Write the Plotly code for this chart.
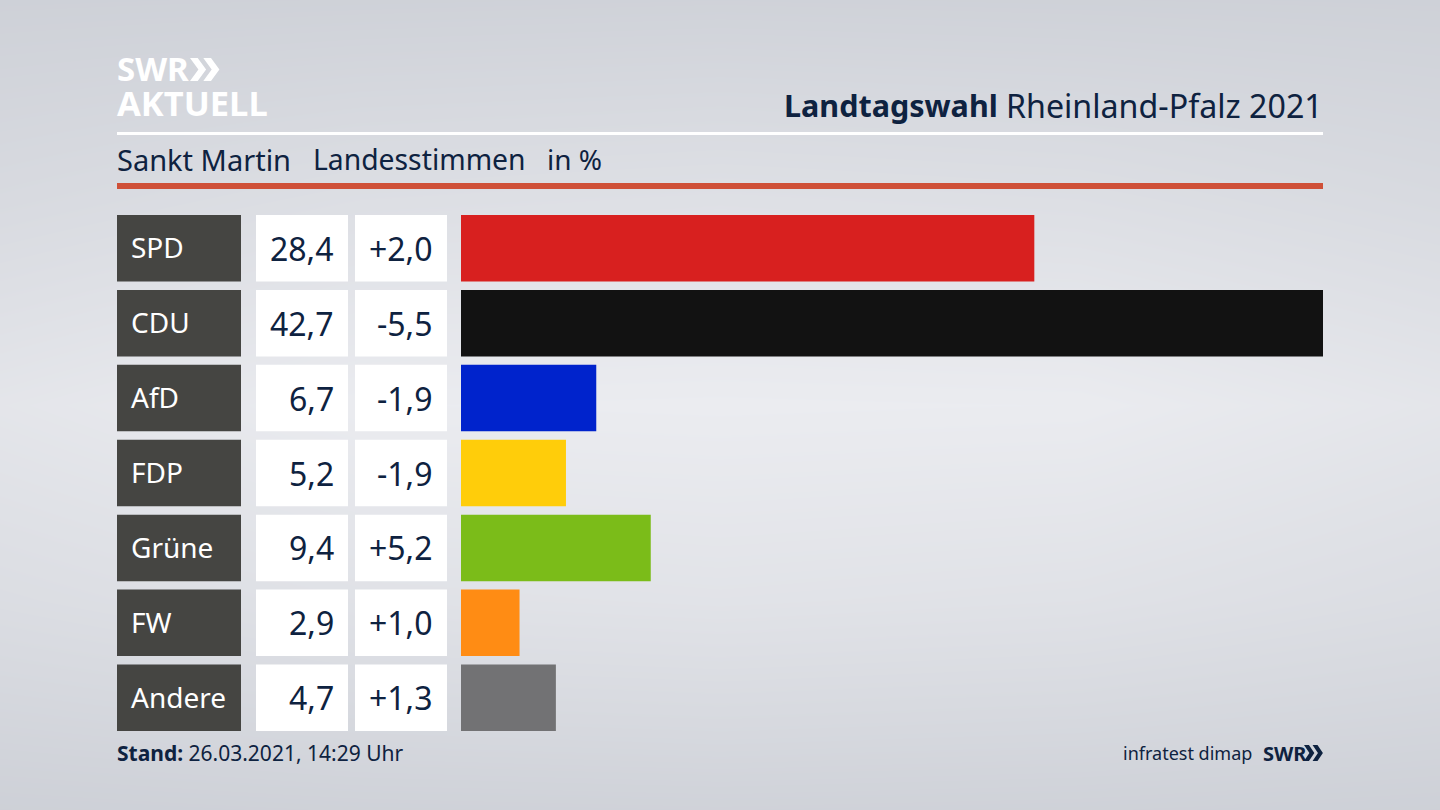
import plotly.graph_objects as go

parties = ["SPD", "CDU", "AfD", "FDP", "Grüne", "FW", "Andere"]
shares = [28.4, 42.7, 6.7, 5.2, 9.4, 2.9, 4.7]
changes = [2.0, -5.5, -1.9, -1.9, 5.2, 1.0, 1.3]
colors = ["#d8201f", "#121212", "#0023cc", "#ffcd0a", "#7bbc19", "#ff8c14", "#727274"]

bg_x = [0, 360, 720, 1080, 1440]
bg_y = [0, 200, 405, 600, 810]
bg_z = [
    [0.10, 0.12, 0.14, 0.12, 0.10],
    [0.40, 0.55, 0.60, 0.55, 0.40],
    [0.78, 0.98, 1.00, 0.98, 0.78],
    [0.50, 0.65, 0.70, 0.65, 0.50],
    [0.08, 0.12, 0.14, 0.12, 0.08],
]

NAVY = "#0e2240"
FONT = "Noto Sans"


def de(v, sign=False):
    s = f"{v:+.1f}" if sign else f"{v:.1f}"
    return s.replace(".", ",")


fig = go.Figure()

# background, on an axis pair that runs in page pixels
fig.add_trace(go.Heatmap(x=bg_x, y=bg_y, z=bg_z, zsmooth="best", showscale=False, hoverinfo="skip",
                         zmin=0, zmax=1, colorscale=[[0, "#cbced5"], [1, "#ebecf0"]]))

fig.add_trace(go.Bar(x=shares, y=parties, orientation="h", width=0.888, marker_color=colors,
                     marker_line_width=0, xaxis="x2", yaxis="y2", showlegend=False))

shapes = []
annotations = []


def rect(x0, y0, x1, y1, color, yref="y"):
    shapes.append(dict(type="rect", xref="x", yref=yref, x0=x0, x1=x1, y0=y0, y1=y1,
                       fillcolor=color, line_width=0))


def text(x, y, s, size, color=NAVY, anchor="left", yref="y"):
    annotations.append(dict(x=x, y=y, text=s, xref="x", yref=yref, showarrow=False, xanchor=anchor,
                            yanchor="middle", font=dict(family=FONT, size=size, color=color)))


def chevrons(x, y, h, w, color):
    # two arrow heads of the SWR logo
    for dx in (0, w * 0.95):
        x0 = x + dx
        shapes.append(dict(type="path", xref="x", yref="y", fillcolor=color, line_width=0,
                           path=f"M{x0},{y} L{x0 + w * 0.55},{y} L{x0 + w * 1.15},{y + h / 2} "
                                f"L{x0 + w * 0.55},{y + h} L{x0},{y + h} L{x0 + w * 0.6},{y + h / 2} Z"))


for i, p in enumerate(parties):
    rect(117, i - 0.444, 241, i + 0.444, "#454542", yref="y2")
    rect(256, i - 0.444, 348, i + 0.444, "#ffffff", yref="y2")
    rect(355, i - 0.444, 447, i + 0.444, "#ffffff", yref="y2")
    annotations.append(dict(x=129, y=i, yshift=1, text=p, xref="x", yref="y2", showarrow=False,
                            xanchor="left", yanchor="middle",
                            font=dict(family=FONT, size=28, color="#ffffff")))
    text(336, i, de(shares[i]), 32, anchor="right", yref="y2")
    text(435, i, de(changes[i], sign=True), 32, anchor="right", yref="y2")

# header
rect(117, 132, 1323, 135, "#ffffff")
rect(117, 183, 1323, 189, "#cf5038")
text(115, 68, "<b>SWR</b>", 33, color="#ffffff")
chevrons(190, 58, 23, 14, "#ffffff")
text(115, 102, "<b>AKTUELL</b>", 34.5, color="#ffffff")
text(1325, 105, "Rheinland-Pfalz 2021", 32.2, anchor="right")
text(1000, 105, "<b>Landtagswahl</b>", 30.5, anchor="right")
text(115, 159, "Sankt Martin", 29)
text(311, 159, "Landesstimmen", 28.3)
text(545, 159, "in %", 28)

# footer
text(115, 753, "<b>Stand:</b> 26.03.2021, 14:29 Uhr", 21)
text(1254, 753, "infratest dimap", 18, anchor="right")
text(1261, 753, "<b>SWR</b>", 20)
chevrons(1304, 745, 16, 9, NAVY)

fig.update_layout(
    width=1440, height=810, margin=dict(l=0, r=0, t=0, b=0),
    paper_bgcolor="#dfe0e5", plot_bgcolor="rgba(0,0,0,0)", showlegend=False,
    shapes=shapes, annotations=annotations,
    xaxis=dict(range=[0, 1440], domain=[0, 1], visible=False, fixedrange=True),
    yaxis=dict(range=[810, 0], domain=[0, 1], visible=False, fixedrange=True),
    xaxis2=dict(range=[0, 42.7], domain=[461 / 1440, 1323 / 1440], anchor="y2", visible=False),
    yaxis2=dict(range=[6.444, -0.444], domain=[1 - 731 / 810, 1 - 215 / 810], anchor="x2",
                type="category", categoryorder="array", categoryarray=parties, visible=False),
)

fig.write_html("out.html", config=dict(displayModeBar=False),
               post_script="document.body.style.margin='0';window.dispatchEvent(new Event('resize'));")
